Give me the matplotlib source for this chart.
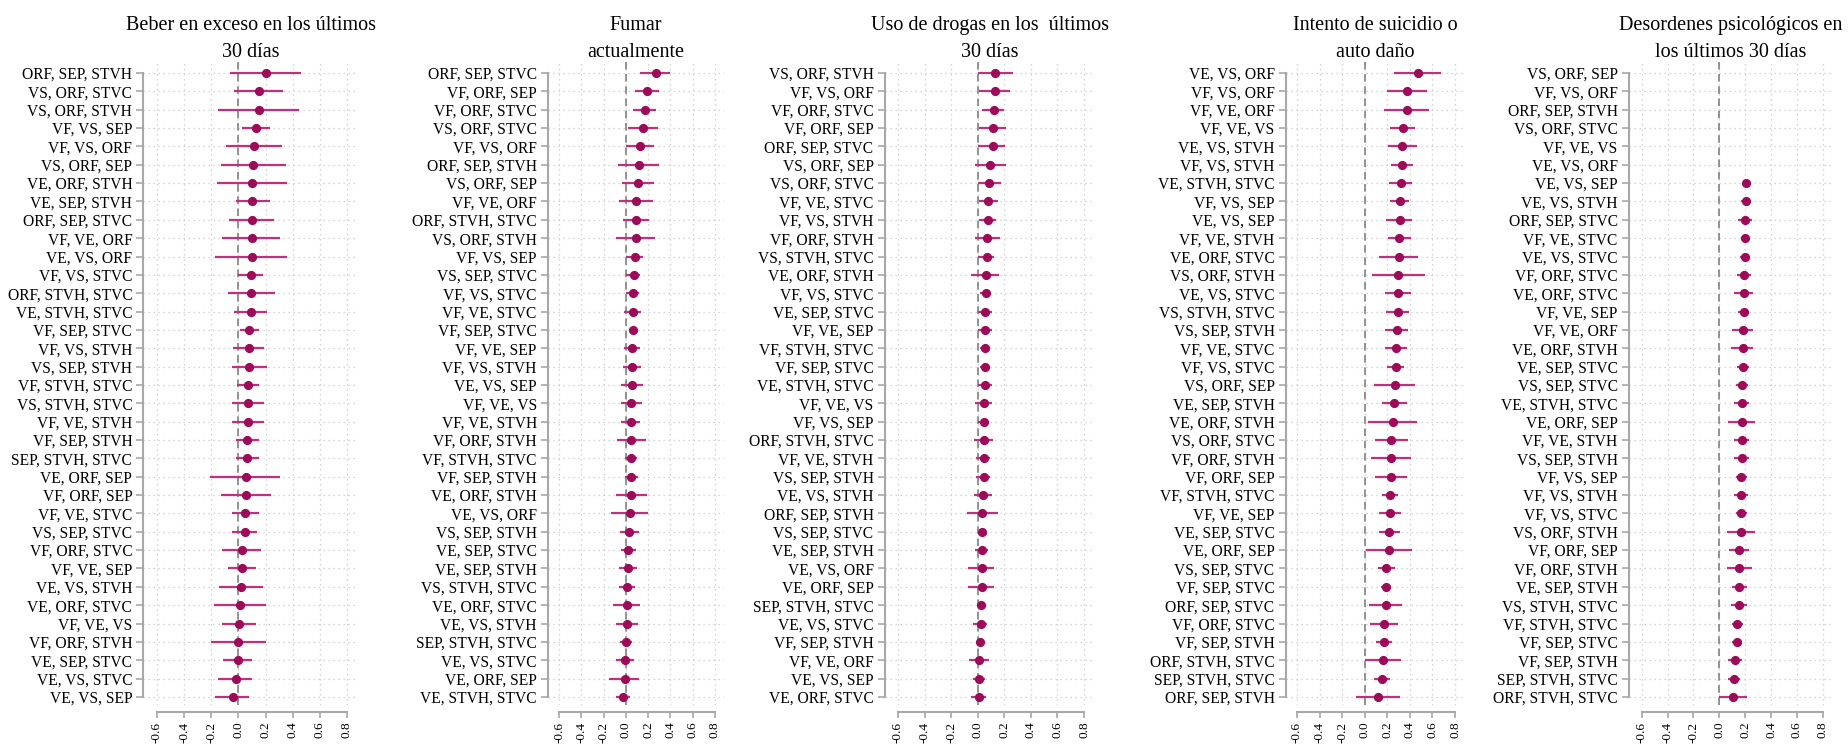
import numpy as np
import matplotlib
matplotlib.use("Agg")
import matplotlib.pyplot as plt

plt.rcParams['font.family'] = ['Liberation Serif', 'DejaVu Serif']

# panel titles
titles = [
    "Beber en exceso en los últimos\n30 días",
    "Fumar\nactualmente",
    "Uso de drogas en los  últimos\n30 días",
    "Intento de suicidio o\nauto daño",
    "Desordenes psicológicos en\nlos últimos 30 días",
]

# ---- panel 1: beber en exceso
labels1 = ["ORF, SEP, STVH", "VS, ORF, STVC", "VS, ORF, STVH", "VF, VS, SEP", "VF, VS, ORF",
           "VS, ORF, SEP", "VE, ORF, STVH", "VE, SEP, STVH", "ORF, SEP, STVC", "VF, VE, ORF",
           "VE, VS, ORF", "VF, VS, STVC", "ORF, STVH, STVC", "VE, STVH, STVC", "VF, SEP, STVC",
           "VF, VS, STVH", "VS, SEP, STVH", "VF, STVH, STVC", "VS, STVH, STVC", "VF, VE, STVH",
           "VF, SEP, STVH", "SEP, STVH, STVC", "VE, ORF, SEP", "VF, ORF, SEP", "VF, VE, STVC",
           "VS, SEP, STVC", "VF, ORF, STVC", "VF, VE, SEP", "VE, VS, STVH", "VE, ORF, STVC",
           "VF, VE, VS", "VF, ORF, STVH", "VE, SEP, STVC", "VE, VS, STVC", "VE, VS, SEP"]
est1 = [0.20, 0.15, 0.15, 0.13, 0.115, 0.11, 0.10, 0.10, 0.10, 0.10, 0.10, 0.096, 0.093, 0.09,
        0.08, 0.08, 0.08, 0.07, 0.07, 0.07, 0.066, 0.064, 0.057, 0.054, 0.052, 0.05, 0.027,
        0.025, 0.022, 0.015, 0.007, -0.002, -0.005, -0.02, -0.04]
lo1 = [-0.06, -0.03, -0.15, 0.03, -0.09, -0.13, -0.16, -0.02, -0.07, -0.12, -0.17, 0.0, -0.08,
       -0.03, 0.015, -0.04, -0.05, -0.01, -0.05, -0.05, -0.02, -0.015, -0.21, -0.13, -0.05,
       -0.045, -0.12, -0.08, -0.14, -0.18, -0.12, -0.20, -0.11, -0.15, -0.17]
hi1 = [0.46, 0.33, 0.45, 0.23, 0.32, 0.35, 0.36, 0.23, 0.26, 0.31, 0.36, 0.18, 0.27, 0.21, 0.15,
       0.19, 0.21, 0.15, 0.19, 0.19, 0.15, 0.15, 0.31, 0.24, 0.15, 0.14, 0.17, 0.13, 0.18, 0.20,
       0.13, 0.20, 0.10, 0.10, 0.08]

# ---- panel 2: fumar actualmente
labels2 = ["ORF, SEP, STVC", "VF, ORF, SEP", "VF, ORF, STVC", "VS, ORF, STVC", "VF, VS, ORF",
           "ORF, SEP, STVH", "VS, ORF, SEP", "VF, VE, ORF", "ORF, STVH, STVC", "VS, ORF, STVH",
           "VF, VS, SEP", "VS, SEP, STVC", "VF, VS, STVC", "VF, VE, STVC", "VF, SEP, STVC",
           "VF, VE, SEP", "VF, VS, STVH", "VE, VS, SEP", "VF, VE, VS", "VF, VE, STVH",
           "VF, ORF, STVH", "VF, STVH, STVC", "VF, SEP, STVH", "VE, ORF, STVH", "VE, VS, ORF",
           "VS, SEP, STVH", "VE, SEP, STVC", "VE, SEP, STVH", "VS, STVH, STVC", "VE, ORF, STVC",
           "VE, VS, STVH", "SEP, STVH, STVC", "VE, VS, STVC", "VE, ORF, SEP", "VE, STVH, STVC"]
est2 = [0.27, 0.19, 0.17, 0.155, 0.13, 0.12, 0.11, 0.093, 0.09, 0.09, 0.084, 0.072, 0.066, 0.06,
        0.06, 0.057, 0.054, 0.054, 0.05, 0.048, 0.048, 0.045, 0.045, 0.045, 0.036, 0.024, 0.02,
        0.015, 0.012, 0.009, 0.006, 0.0, -0.009, -0.012, -0.027]
lo2 = [0.13, 0.08, 0.06, 0.015, 0.0, -0.07, -0.035, -0.06, -0.03, -0.085, 0.0, 0.0, 0.0, -0.015,
       0.025, -0.015, -0.03, -0.045, -0.045, -0.04, -0.08, -0.006, -0.012, -0.09, -0.13, -0.055,
       -0.04, -0.066, -0.063, -0.117, -0.09, -0.05, -0.09, -0.15, -0.09]
hi2 = [0.40, 0.30, 0.27, 0.29, 0.25, 0.30, 0.25, 0.24, 0.21, 0.26, 0.15, 0.13, 0.12, 0.135, 0.10,
       0.13, 0.135, 0.15, 0.145, 0.13, 0.18, 0.10, 0.105, 0.19, 0.20, 0.117, 0.09, 0.10, 0.084,
       0.13, 0.108, 0.054, 0.07, 0.12, 0.04]

# ---- panel 3: uso de drogas
labels3 = ["VS, ORF, STVH", "VF, VS, ORF", "VF, ORF, STVC", "VF, ORF, SEP", "ORF, SEP, STVC",
           "VS, ORF, SEP", "VS, ORF, STVC", "VF, VE, STVC", "VF, VS, STVH", "VF, ORF, STVH",
           "VS, STVH, STVC", "VE, ORF, STVH", "VF, VS, STVC", "VE, SEP, STVC", "VF, VE, SEP",
           "VF, STVH, STVC", "VF, SEP, STVC", "VE, STVH, STVC", "VF, VE, VS", "VF, VS, SEP",
           "ORF, STVH, STVC", "VF, VE, STVH", "VS, SEP, STVH", "VE, VS, STVH", "ORF, SEP, STVH",
           "VS, SEP, STVC", "VE, SEP, STVH", "VE, VS, ORF", "VE, ORF, SEP", "SEP, STVH, STVC",
           "VE, VS, STVC", "VF, SEP, STVH", "VF, VE, ORF", "VE, VS, SEP", "VE, ORF, STVC"]
est3 = [0.133, 0.128, 0.12, 0.118, 0.113, 0.093, 0.085, 0.08, 0.075, 0.07, 0.068, 0.063, 0.06,
        0.058, 0.055, 0.055, 0.053, 0.055, 0.05, 0.048, 0.048, 0.045, 0.045, 0.04, 0.035, 0.033,
        0.033, 0.03, 0.03, 0.025, 0.023, 0.018, 0.013, 0.01, 0.008]
lo3 = [0.0, 0.008, 0.035, 0.01, 0.0, -0.018, 0.0, 0.01, 0.01, -0.023, 0.005, -0.048, 0.015, 0.0,
       0.003, 0.015, 0.015, 0.0, -0.022, 0.0, -0.03, -0.013, -0.01, -0.03, -0.078, 0.003, -0.018,
       -0.07, -0.07, -0.003, -0.035, -0.01, -0.063, -0.035, -0.053]
hi3 = [0.265, 0.24, 0.20, 0.21, 0.208, 0.21, 0.175, 0.15, 0.135, 0.165, 0.125, 0.163, 0.095, 0.108,
       0.108, 0.09, 0.083, 0.108, 0.11, 0.083, 0.115, 0.095, 0.093, 0.105, 0.15, 0.063, 0.08,
       0.125, 0.125, 0.053, 0.073, 0.048, 0.085, 0.053, 0.065]

# ---- panel 4: intento de suicidio
labels4 = ["VE, VS, ORF", "VF, VS, ORF", "VF, VE, ORF", "VF, VE, VS", "VE, VS, STVH",
           "VF, VS, STVH", "VE, STVH, STVC", "VF, VS, SEP", "VE, VS, SEP", "VF, VE, STVH",
           "VE, ORF, STVC", "VS, ORF, STVH", "VE, VS, STVC", "VS, STVH, STVC", "VS, SEP, STVH",
           "VF, VE, STVC", "VF, VS, STVC", "VS, ORF, SEP", "VE, SEP, STVH", "VE, ORF, STVH",
           "VS, ORF, STVC", "VF, ORF, STVH", "VF, ORF, SEP", "VF, STVH, STVC", "VF, VE, SEP",
           "VE, SEP, STVC", "VE, ORF, SEP", "VS, SEP, STVC", "VF, SEP, STVC", "ORF, SEP, STVC",
           "VF, ORF, STVC", "VF, SEP, STVH", "ORF, STVH, STVC", "SEP, STVH, STVC", "ORF, SEP, STVH"]
est4 = [0.473, 0.376, 0.376, 0.34, 0.334, 0.331, 0.32, 0.308, 0.308, 0.305, 0.30, 0.296, 0.296,
        0.293, 0.284, 0.278, 0.278, 0.272, 0.263, 0.246, 0.234, 0.234, 0.231, 0.225, 0.225, 0.219,
        0.216, 0.192, 0.186, 0.186, 0.172, 0.172, 0.166, 0.151, 0.121]
lo4 = [0.263, 0.198, 0.175, 0.228, 0.207, 0.23, 0.216, 0.225, 0.192, 0.204, 0.127, 0.06, 0.18,
       0.19, 0.178, 0.18, 0.195, 0.086, 0.157, 0.033, 0.092, 0.056, 0.089, 0.157, 0.13, 0.13,
       0.01, 0.115, 0.142, 0.036, 0.047, 0.098, 0.003, 0.083, -0.077]
hi4 = [0.678, 0.55, 0.565, 0.447, 0.459, 0.429, 0.423, 0.388, 0.42, 0.408, 0.47, 0.53, 0.408,
       0.396, 0.385, 0.37, 0.352, 0.447, 0.37, 0.46, 0.379, 0.408, 0.376, 0.296, 0.32, 0.31,
       0.42, 0.27, 0.23, 0.328, 0.296, 0.243, 0.325, 0.225, 0.31]

# ---- panel 5: desordenes psicologicos (first six without estimate)
labels5 = ["VS, ORF, SEP", "VF, VS, ORF", "ORF, SEP, STVH", "VS, ORF, STVC", "VF, VE, VS",
           "VE, VS, ORF", "VE, VS, SEP", "VE, VS, STVH", "ORF, SEP, STVC", "VF, VE, STVC",
           "VE, VS, STVC", "VF, ORF, STVC", "VE, ORF, STVC", "VF, VE, SEP", "VF, VE, ORF",
           "VE, ORF, STVH", "VE, SEP, STVC", "VS, SEP, STVC", "VE, STVH, STVC", "VE, ORF, SEP",
           "VF, VE, STVH", "VS, SEP, STVH", "VF, VS, SEP", "VF, VS, STVH", "VF, VS, STVC",
           "VS, ORF, STVH", "VF, ORF, SEP", "VF, ORF, STVH", "VE, SEP, STVH", "VS, STVH, STVC",
           "VF, STVH, STVC", "VF, SEP, STVC", "VF, SEP, STVH", "SEP, STVH, STVC", "ORF, STVH, STVC"]
nan = np.nan
est5 = [nan, nan, nan, nan, nan, nan, 0.209, 0.204, 0.201, 0.198, 0.198, 0.193, 0.19, 0.188,
        0.183, 0.18, 0.183, 0.178, 0.175, 0.175, 0.175, 0.173, 0.17, 0.168, 0.168, 0.168, 0.155,
        0.155, 0.155, 0.152, 0.139, 0.134, 0.121, 0.116, 0.108]
lo5 = [nan, nan, nan, nan, nan, nan, 0.186, 0.17, 0.147, 0.165, 0.16, 0.139, 0.116, 0.147, 0.10,
       0.093, 0.134, 0.129, 0.116, 0.07, 0.116, 0.116, 0.129, 0.116, 0.126, 0.057, 0.075, 0.057,
       0.095, 0.09, 0.095, 0.095, 0.07, 0.064, 0.0]
hi5 = [nan, nan, nan, nan, nan, nan, 0.232, 0.237, 0.25, 0.232, 0.237, 0.242, 0.258, 0.227, 0.263,
       0.263, 0.227, 0.224, 0.227, 0.278, 0.227, 0.227, 0.216, 0.219, 0.211, 0.278, 0.227, 0.25,
       0.216, 0.211, 0.186, 0.178, 0.178, 0.162, 0.216]

panels = [(labels1, est1, lo1, hi1), (labels2, est2, lo2, hi2), (labels3, est3, lo3, hi3),
          (labels4, est4, lo4, hi4), (labels5, est5, lo5, hi5)]

xticks = [-0.6, -0.4, -0.2, 0.0, 0.2, 0.4, 0.6, 0.8]
xtick_labels = ["-0.6", "-0.4", "-0.2", "0.0", "0.2", "0.4", "0.6", "0.8"]

W, H = 1849, 746
fig = plt.figure(figsize=(W / 100, H / 100), dpi=100)

# left edge and width of each plot region, in pixels
boxes = [(143.4, 214.4), (547.9, 176.0), (884.7, 210.0), (1285.7, 178.4), (1628.8, 204.3)]
top_px, bot_px = 62, 705

line_col = '#c0307e'
dot_col = '#9c0a58'

for (labs, est, lo, hi), title, (lx, wx) in zip(panels, titles, boxes):
    ax = fig.add_axes([lx / W, (H - bot_px) / H, wx / W, (bot_px - top_px) / H])
    n = len(labs)
    y = np.arange(n)
    est = np.array(est, dtype=float)
    lo = np.array(lo, dtype=float)
    hi = np.array(hi, dtype=float)

    # spines first: set_position resets the tick settings
    for s in ['top', 'right']:
        ax.spines[s].set_visible(False)
    ax.spines['bottom'].set_position(('outward', 5))
    ax.spines['left'].set_bounds(0, n - 1)
    ax.spines['left'].set_color('#a8a8a8')
    ax.spines['left'].set_linewidth(1.5)
    ax.spines['bottom'].set_bounds(-0.6, 0.8)
    ax.spines['bottom'].set_color('#a8a8a8')
    ax.spines['bottom'].set_linewidth(1.5)

    ax.axvline(0, color='#777777', lw=1.1, ls=(0, (5, 3)), zorder=2)
    ax.hlines(y, lo, hi, color=line_col, lw=1.6, zorder=3)
    ax.plot(est, y, 'o', color=dot_col, ms=5.6, zorder=4)

    ax.set_xlim(-0.7, 0.88)
    ax.set_ylim(n - 1 + 0.44, -0.6)
    ax.set_yticks(y)
    ax.set_yticklabels(labs, fontsize=11.2)
    ax.set_xticks(xticks)
    ax.set_xticklabels(xtick_labels, fontsize=9.5)

    ax.grid(True, ls=(0, (1, 3)), color='#c8c8c8', lw=0.9, zorder=0)
    ax.set_axisbelow(True)

    ax.tick_params(axis='y', length=5, width=1.2, color='#a8a8a8', pad=3)
    ax.tick_params(axis='x', length=4, width=1.2, color='#a8a8a8', pad=3,
                   labelrotation=90)

    ax.set_title(title, fontsize=14.5, linespacing=1.55, pad=2)

fig.savefig("out.png", dpi=100)
